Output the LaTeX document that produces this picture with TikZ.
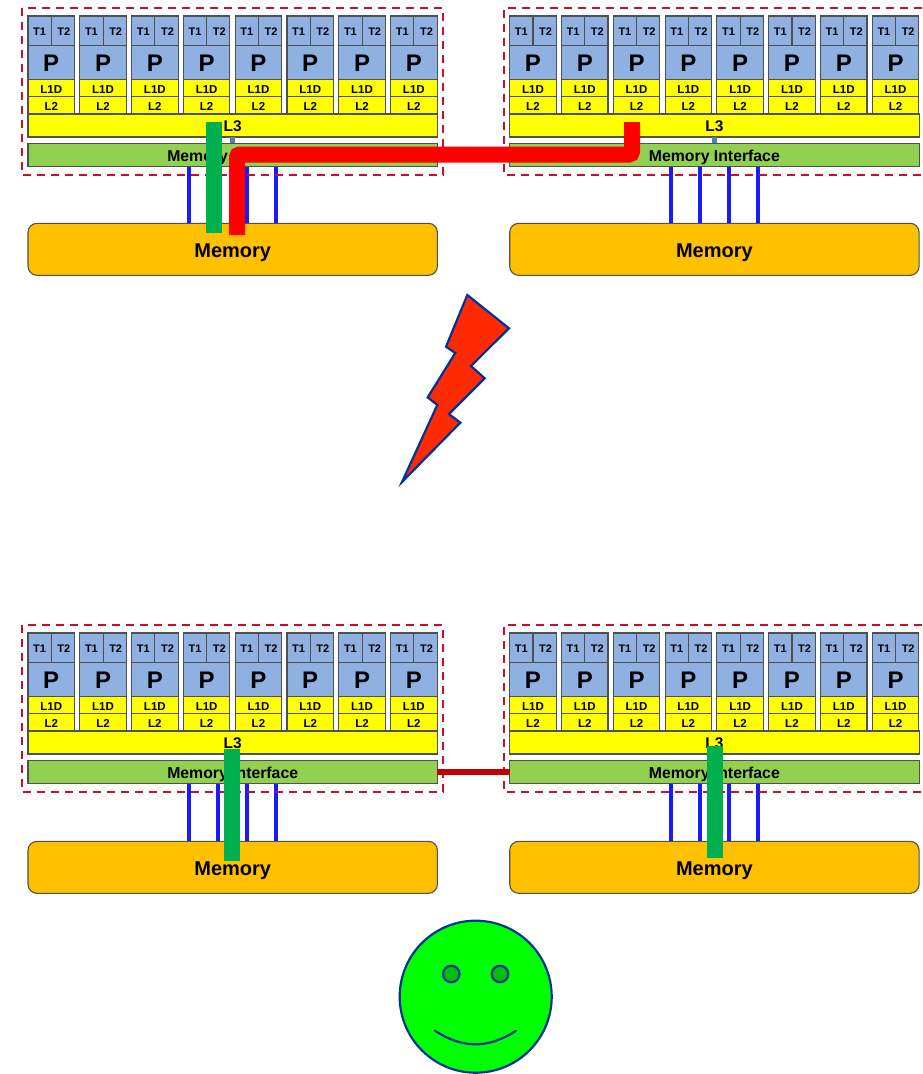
\documentclass[tikz,border=0pt]{standalone}
\usepackage{fontspec}
\setmainfont{Liberation Sans}
\definecolor{coreblue}{HTML}{8EB1E1}
\definecolor{cacheyellow}{HTML}{FFFF00}
\definecolor{ifgreen}{HTML}{92D050}
\definecolor{memorange}{HTML}{FFC000}
\definecolor{edgegray}{HTML}{505050}
\definecolor{dashred}{HTML}{C8102E}
\definecolor{busblue}{HTML}{1A1AFF}
\definecolor{stubblue}{HTML}{4F81BD}
\definecolor{bargreen}{HTML}{00B050}
\definecolor{barred}{HTML}{FF0000}
\definecolor{linkred}{HTML}{C00000}
\definecolor{boltred}{HTML}{FF2A00}
\definecolor{inkblue}{HTML}{003399}
\definecolor{faceg}{HTML}{00FF00}
\definecolor{eyeg}{HTML}{00C000}
\tikzset{
  cell/.style={draw=edgegray,line width=1.1pt,inner sep=0pt,outer sep=0pt,anchor=north west,text depth=0pt},
  thread/.style={cell,fill=coreblue,minimum width=23.25pt,minimum height=29.7pt,text height=9pt,font=\bfseries\fontsize{11}{11}\selectfont},
  proc/.style={cell,fill=coreblue,minimum width=46.5pt,minimum height=33.6pt,text height=18.4pt,font=\bfseries\fontsize{24}{24}\selectfont},
  lone/.style={cell,fill=cacheyellow,minimum width=46.5pt,minimum height=17.4pt,text height=10pt,font=\bfseries\fontsize{11.5}{11.5}\selectfont},
  ltwo/.style={cell,fill=cacheyellow,minimum width=46.5pt,minimum height=17.3pt,text height=9.3pt,font=\bfseries\fontsize{11.5}{11.5}\selectfont},
  lthree/.style={cell,fill=cacheyellow,minimum width=409.4pt,minimum height=23pt,text height=12.4pt,font=\bfseries\fontsize{15.5}{15.5}\selectfont},
  memif/.style={cell,fill=ifgreen,minimum width=409.4pt,minimum height=23.4pt,text height=13.4pt,font=\bfseries\fontsize{15.8}{15.8}\selectfont},
  membox/.style={cell,fill=memorange,rounded corners=9pt,minimum width=409.4pt,minimum height=52pt,text height=16pt,font=\bfseries\fontsize{20}{20}\selectfont},
  socket/.style={draw=dashred,line width=2pt,dash pattern=on 8pt off 6pt},
  busline/.style={draw=busblue,line width=3.6pt},
  stub/.style={draw=stubblue,line width=4.5pt},
  greenbar/.style={draw=bargreen,line width=16pt},
  redbar/.style={draw=barred,line width=16pt,rounded corners=3pt},
  qpi/.style={draw=linkred,line width=6pt},
  bolt/.style={draw=inkblue,fill=boltred,line width=2.2pt,line join=miter},
  face/.style={draw=inkblue,fill=faceg,line width=2.2pt,circle,minimum size=152pt,inner sep=0pt,outer sep=0pt},
  eye/.style={draw=inkblue,fill=eyeg,line width=2.2pt,circle,minimum size=16.5pt,inner sep=0pt,outer sep=0pt},
  smile/.style={draw=inkblue,line width=2.2pt,line cap=round},
}
% #1 prefix, #2 x shift, #3 y shift, #4 memory y top (local)
\newcommand{\drawsystem}[4]{%
  \begin{scope}[shift={(#2,#3)}]
    \foreach \i in {0,...,7}{%
      \pgfmathsetmacro{\cx}{28+51.8*\i}%
      \pgfmathsetmacro{\cy}{\cx+23.25}%
      \node[thread] (#1-ta\i) at (\cx,16) {T1\hspace{3.2pt}};
      \node[thread] (#1-tb\i) at (\cy,16) {\hspace{2pt}T2};
      \node[proc] (#1-p\i) at (\cx,45.7) {P};
      \node[lone] (#1-la\i) at (\cx,79.3) {L1D};
      \node[ltwo] (#1-lb\i) at (\cx,96.7) {L2};
    }
    \node[lthree] (#1-l3) at (28,114) {L3};
    \node[memif] (#1-mi) at (28,143.3) {Memory Interface};
    \node[membox] (#1-mem) at (28,#4) {Memory};
    \draw[stub] (#1-l3.south) -- (#1-mi.north);
    \foreach \bx in {189,218,247,276}{%
      \coordinate (#1-b\bx) at (\bx,167.2);
      \draw[busline] (#1-b\bx) -- (#1-b\bx |- #1-mem.north);
    }
  \end{scope}
}
\begin{document}
\begin{tikzpicture}[x=1pt,y=-1pt]
  \useasboundingbox (0,0) rectangle (922,1074);
  % top pair
  \drawsystem{A}{0}{0}{223.3}
  \drawsystem{B}{481.7}{0}{223.3}
  \draw[socket] (21.7,7.7) rectangle (442.7,174.7);
  \draw[socket] (922,7.7) -- (504,7.7) -- (504,174.7) -- (922,174.7);
  \coordinate (gt) at (214,122);
  \coordinate (gb) at (214,233);
  \draw[greenbar] (gt) -- (gb);
  \coordinate (rs) at (632,122);
  \coordinate (rm) at (632,154.5);
  \coordinate (rn) at (237,154.5);
  \coordinate (re) at (237,235);
  \draw[redbar] (rs) -- (rm) -- (rn) -- (re);
  % bolt
  \draw[bolt] (467.3,295) -- (509,328.3) -- (471,366) -- (484.7,378.3) -- (449,414) -- (460.3,422.7) -- (402,482) -- (437.3,405) -- (427.7,397.3) -- (455.3,353) -- (446,346.7) -- cycle;
  % bottom pair
  \drawsystem{C}{0}{617}{224.3}
  \drawsystem{D}{481.7}{617}{224.3}
  \draw[socket] (21.7,624.7) rectangle (442.7,791.7);
  \draw[socket] (922,624.7) -- (504,624.7) -- (504,791.7) -- (922,791.7);
  \draw[qpi] (C-mi.east) -- (D-mi.west);
  \coordinate (hta) at (232,749);
  \coordinate (hba) at (232,861);
  \draw[greenbar] (hta) -- (hba);
  \coordinate (htb) at (714.5,745.7);
  \coordinate (hbb) at (714.5,857.5);
  \draw[greenbar] (htb) -- (hbb);
  % face
  \node[face] (smiley) at (475.7,996.7) {};
  \node[eye] (eyel) at (451.3,974) {};
  \node[eye] (eyer) at (500,974) {};
  \coordinate (sl) at (435,1030.7);
  \coordinate (sr) at (516,1030.7);
  \coordinate (sca) at (462,1048.8);
  \coordinate (scb) at (489,1048.8);
  \draw[smile] (sl) .. controls (sca) and (scb) .. (sr);
\end{tikzpicture}
\end{document}
